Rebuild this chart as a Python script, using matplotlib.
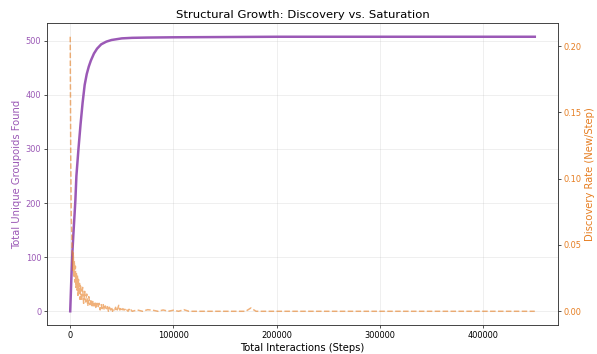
import matplotlib

matplotlib.use("Agg")
import matplotlib.pyplot as plt
import numpy as np

# cumulative unique groupoids found vs. interaction step
growth_steps = [0, 1000, 2000, 3000, 4000, 5000, 6000, 8000, 10000, 12000, 14000,
                16000, 18000, 20000, 23000, 26000, 30000, 35000, 40000, 50000,
                60000, 75000, 100000, 150000, 200000, 300000, 450000]
unique_found = [0, 55, 105, 140, 172, 205, 250, 300, 345, 385, 418, 438, 452,
                463, 476, 485, 493, 498, 501, 504, 505, 505.5, 506, 506.5, 507, 507, 507]

# discovery rate (new per step), early part sampled every 500 steps
early_rate = [0.207, 0.118, 0.072, 0.058, 0.046, 0.031, 0.044, 0.026, 0.038, 0.022,
              0.034, 0.018, 0.029, 0.016, 0.027, 0.012, 0.024, 0.014, 0.021, 0.009,
              0.019]
# 11000 .. 59000 every 1000 steps
mid_rate = [0.008, 0.018, 0.006, 0.015, 0.007, 0.013, 0.004, 0.011, 0.005, 0.009,
            0.003, 0.008, 0.004, 0.007, 0.002, 0.006, 0.003, 0.006, 0.001, 0.005,
            0.002, 0.005, 0.001, 0.004, 0.002, 0.004, 0.000, 0.003, 0.001, 0.003,
            0.000, 0.002, 0.001, 0.003, 0.000, 0.002, 0.0045, 0.001, 0.002, 0.000,
            0.002, 0.001, 0.0015, 0.000, 0.001, 0.000, 0.0015, 0.000, 0.001]
# 60000 .. 450000 every 5000 steps
tail_rate = [0.0, 0.001, 0.0, 0.0012, 0.0008, 0.0, 0.001, 0.0, 0.0008, 0.0,
             0.0012, 0.0, 0.0, 0.0, 0.0, 0.0, 0.0, 0.0, 0.0, 0.0,
             0.0, 0.0, 0.0, 0.0025, 0.0, 0.0, 0.0, 0.0, 0.0, 0.0,
             0.0, 0.0, 0.0, 0.0, 0.0, 0.0, 0.0, 0.0, 0.0, 0.0,
             0.0, 0.0, 0.0, 0.0, 0.0, 0.0, 0.0, 0.0, 0.0, 0.0,
             0.0, 0.0, 0.0, 0.0, 0.0, 0.0, 0.0, 0.0, 0.0, 0.0,
             0.0, 0.0, 0.0, 0.0, 0.0, 0.0, 0.0, 0.0, 0.0, 0.0,
             0.0, 0.0, 0.0, 0.0, 0.0, 0.0, 0.0, 0.0, 0.0]

rate_steps = np.concatenate([
    np.arange(0, 10001, 500),
    np.arange(11000, 59001, 1000),
    np.arange(60000, 450001, 5000),
])
rate = np.array(early_rate + mid_rate + tail_rate)

PURPLE = "#9b59b6"
ORANGE = "#e67e22"

fig = plt.figure(figsize=(10, 5.93), dpi=59.7)
ax = fig.add_axes([0.0787, 0.0819, 0.856, 0.853])
ax.plot(growth_steps, unique_found, color=PURPLE, lw=3, zorder=3)
ax.set_xlabel("Total Interactions (Steps)", fontsize=12)
ax.set_ylabel("Total Unique Groupoids Found", color=PURPLE, fontsize=12)
ax.tick_params(axis="y", labelcolor=PURPLE)
ax.grid(True, alpha=0.3)

ax2 = ax.twinx()
ax2.plot(rate_steps, rate, color=ORANGE, ls="--", lw=1.8, alpha=0.6)
ax2.set_ylabel("Discovery Rate (New/Step)", color=ORANGE, fontsize=12)
ax2.tick_params(axis="y", labelcolor=ORANGE)

ax.set_title("Structural Growth: Discovery vs. Saturation", fontsize=14)
for a in (ax, ax2):
    for s in a.spines.values():
        s.set_color("#333333")

fig.savefig("out.png", dpi=59.7)
